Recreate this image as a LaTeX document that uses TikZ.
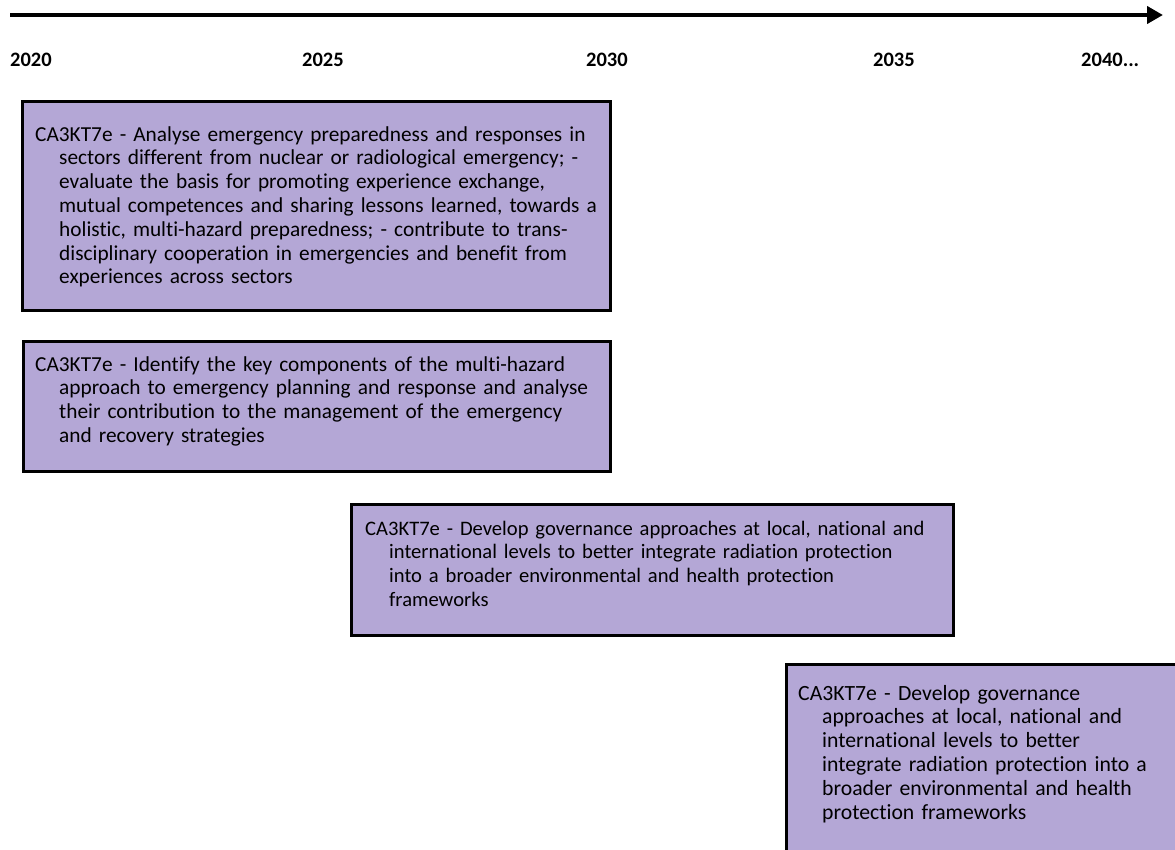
\documentclass[tikz,border=0pt]{standalone}
\usepackage{fontspec}
\setmainfont[Ligatures=NoCommon]{Carlito}
\usetikzlibrary{arrows.meta}
\definecolor{taskfill}{RGB}{180,167,214}
\newcommand{\contline}{\hspace*{24pt}}
\tikzset{
  taskbox/.style={draw=black, line width=3pt, fill=taskfill, inner sep=0pt},
  tasktext/.style={text width=800pt, align=left, inner sep=0pt, anchor=base west,
    font=\fontsize{21.33}{23.8}\selectfont},
  yearlabel/.style={inner sep=0pt, anchor=base west, font=\fontsize{20.5}{24}\selectfont\bfseries},
  axis/.style={line width=4.5pt, -{Triangle[length=16pt,width=17pt]}},
}
\begin{document}
\begin{tikzpicture}[x=1pt,y=-1pt]
\useasboundingbox (0,0) rectangle (1175,849);
\clip (0,0) rectangle (1175,849);

% time axis
\coordinate (axisstart) at (10,15);
\coordinate (axisend) at (1163,15);
\draw[axis] (axisstart) -- (axisend);

% year marks
\node[yearlabel] (y2020) at (10,66.7) {2020};
\node[yearlabel] (y2025) at (302,66.7) {2025};
\node[yearlabel] (y2030) at (586,66.7) {2030};
\node[yearlabel] (y2035) at (873,66.7) {2035};
\node[yearlabel] (y2040) at (1081,66.7) {2040...};

% task boxes
\node[taskbox, minimum width=588pt, minimum height=209pt] (b1) at (316.5,206) {};
\node[taskbox, minimum width=587pt, minimum height=130pt] (b2) at (317,406.5) {};
\node[taskbox, minimum width=602pt, minimum height=131pt] (b3) at (652.5,570) {};
\node[taskbox, minimum width=413.5pt, minimum height=215.5pt] (b4) at (993.25,772.25) {};

% task descriptions
\node[tasktext] (t1) at (35,141) {CA3KT7e - Analyse emergency preparedness and responses in\\
\contline sectors different from nuclear or radiological emergency; -\\
\contline evaluate the basis for promoting experience exchange,\\
\contline mutual competences and sharing lessons learned, towards a\\
\contline holistic, multi-hazard preparedness; - contribute to trans-\\
\contline disciplinary cooperation in emergencies and benefit from\\
\contline experiences across sectors};

\node[tasktext] (t2) at (35,371) {CA3KT7e - Identify the key components of the multi-hazard\\
\contline approach to emergency planning and response and analyse\\
\contline their contribution to the management of the emergency\\
\contline and recovery strategies};

\node[tasktext, font=\fontsize{20.6}{23.8}\selectfont] (t3) at (365,535) {CA3KT7e - Develop governance approaches at local, national and\\
\contline international levels to better integrate radiation protection\\
\contline into a broader environmental and health protection\\
\contline frameworks};

\node[tasktext, font=\fontsize{21.7}{23.8}\selectfont] (t4) at (798,700) {CA3KT7e - Develop governance\\
\contline approaches at local, national and\\
\contline international levels to better\\
\contline integrate radiation protection into a\\
\contline broader environmental and health\\
\contline protection frameworks};
\end{tikzpicture}
\end{document}
